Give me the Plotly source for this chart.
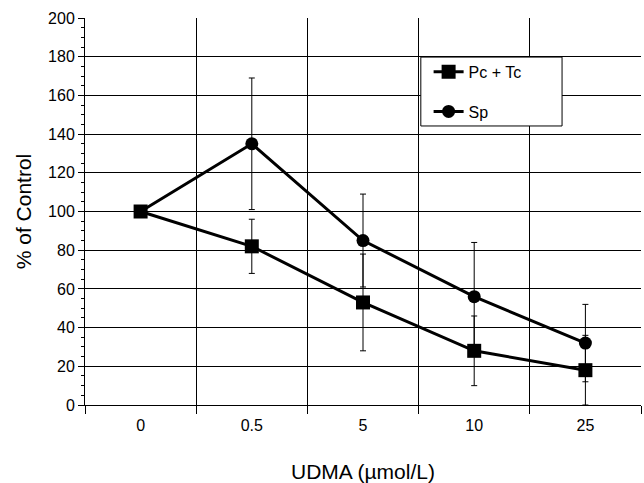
import plotly.graph_objects as go

doses = ["0", "0.5", "5", "10", "25"]
pc_tc = [100, 82, 53, 28, 18]
pc_tc_err = [0, 14, 25, 18, 18]
sp = [100, 135, 85, 56, 32]
sp_err = [0, 34, 24, 28, 20]

fig = go.Figure()
fig.add_trace(go.Scatter(
    x=doses, y=sp, name="Sp", mode="lines+markers",
    line=dict(color="black", width=3),
    marker=dict(symbol="circle", size=13, color="black"),
    error_y=dict(type="data", array=sp_err, color="black", thickness=1, width=3),
    legendgroup="b", legendrank=2,
))
fig.add_trace(go.Scatter(
    x=doses, y=pc_tc, name="Pc + Tc", mode="lines+markers",
    line=dict(color="black", width=3),
    marker=dict(symbol="square", size=14, color="black"),
    error_y=dict(type="data", array=pc_tc_err, color="black", thickness=1, width=3),
    legendgroup="a", legendrank=1,
))

# legend frame (wider than plotly's auto-sized legend box)
fig.add_shape(
    type="rect", xref="paper", yref="paper",
    x0=0.604, x1=0.858, y0=0.721, y1=0.899,
    line=dict(color="black", width=1), fillcolor="white", layer="above",
)

fig.update_layout(
    width=644, height=483,
    margin=dict(l=85, r=3, t=18, b=78),
    paper_bgcolor="white", plot_bgcolor="white",
    font=dict(family="Liberation Sans, Arial, sans-serif", color="black", size=16),
    showlegend=True,
    legend=dict(
        x=0.618, y=0.905, xanchor="left", yanchor="top",
        bgcolor="rgba(0,0,0,0)", borderwidth=0,
        traceorder="grouped", tracegroupgap=16,
        font=dict(size=16),
    ),
    xaxis=dict(
        type="category", range=[-0.5, 4.5],
        tickson="boundaries", ticks="outside", ticklen=8, tickcolor="black",
        showgrid=True, gridcolor="black", gridwidth=1,
        showline=True, linecolor="black", linewidth=1,
        title=dict(text="UDMA (µmol/L)", font=dict(size=21), standoff=31),
        tickfont=dict(size=16), ticklabelstandoff=6,
    ),
    yaxis=dict(
        range=[0, 200], dtick=20, tick0=0,
        ticks="outside", ticklen=6, tickcolor="black",
        showgrid=True, gridcolor="black", gridwidth=1,
        showline=True, linecolor="black", linewidth=1,
        zeroline=False,
        minor=dict(dtick=5, ticks="outside", ticklen=3, tickcolor="black", showgrid=False),
        title=dict(text="% of Control", font=dict(size=21), standoff=10),
        tickfont=dict(size=16),
    ),
)

fig.write_html("out.html")
